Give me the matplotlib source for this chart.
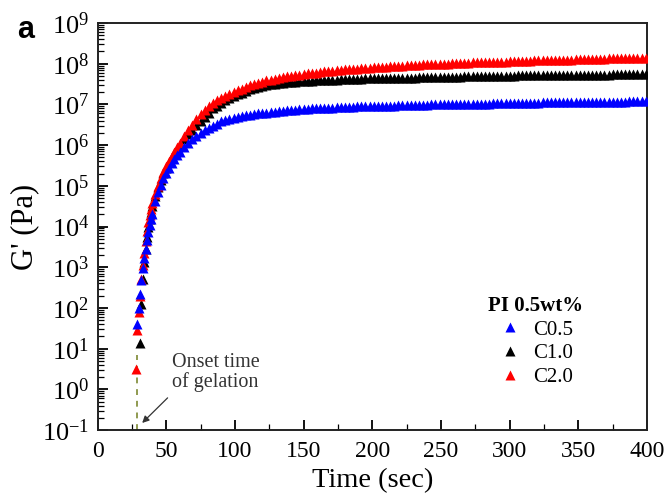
import matplotlib
matplotlib.use("Agg")
from matplotlib import pyplot as plt
from matplotlib.ticker import LogLocator, FixedLocator, NullFormatter
import numpy as np

plt.rcParams["font.family"] = ["Liberation Serif", "DejaVu Serif"]
plt.rcParams["mathtext.fontset"] = "custom"
plt.rcParams["mathtext.rm"] = "Liberation Serif"
plt.rcParams["mathtext.it"] = "Liberation Serif:italic"

# sampling times (sec)
time_s = [28, 29, 30, 31, 32, 33, 34, 35, 36, 37, 38, 39, 40,
          42, 44, 46, 48, 50, 52, 54, 56, 58, 60,
          63, 66, 69, 72, 75, 78, 81, 84, 87, 90,
          93, 96, 99, 102, 105, 108, 111, 114, 117, 120, 123, 126, 129, 132, 135, 138,
          141, 144, 147, 150, 153, 156, 159, 162, 165, 168, 171, 174, 177, 180, 183, 186,
          189, 192, 195, 198, 201, 204, 207, 210, 213, 216, 219, 222, 225, 228, 231, 234,
          237, 240, 243, 246, 249, 252, 255, 258, 261, 264, 267, 270, 273, 276, 279, 282,
          285, 288, 291, 294, 297, 300, 303, 306, 309, 312, 315, 318, 321, 324, 327, 330,
          333, 336, 339, 342, 345, 348, 351, 354, 357, 360, 363, 366, 369, 372, 375, 378,
          381, 384, 387, 390, 393, 396, 399]

# log10 G' (Pa); C0.5 starts at 29 s, C1.0 at 31 s, C2.0 at 28 s
logG_c05 = [1.60, 2.00, 2.35, 2.68, 2.97, 3.23, 3.46, 3.67, 3.86, 4.03, 4.18, 4.32,
            4.62, 4.84, 5.02, 5.18, 5.32, 5.45, 5.56, 5.66, 5.75, 5.83,
            5.95, 6.05, 6.14, 6.22, 6.29, 6.36, 6.42, 6.48, 6.53, 6.58,
            6.61, 6.64, 6.67, 6.69, 6.71, 6.73, 6.75, 6.76, 6.78, 6.79, 6.80, 6.81, 6.82, 6.83, 6.84, 6.85,
            6.86, 6.87, 6.88, 6.88, 6.89, 6.90, 6.90, 6.91, 6.91, 6.92, 6.92, 6.93, 6.93, 6.94, 6.94, 6.94,
            6.95, 6.95, 6.95, 6.96, 6.96, 6.96, 6.97, 6.97, 6.97, 6.97, 6.98, 6.98, 6.98, 6.98, 6.99, 6.99,
            6.99, 6.99, 7.00, 7.00, 7.00, 7.00, 7.00, 7.01, 7.01, 7.01, 7.01, 7.01, 7.02, 7.02, 7.02, 7.02,
            7.02, 7.03, 7.03, 7.03, 7.03, 7.03, 7.03, 7.04, 7.04, 7.04, 7.04, 7.04, 7.04, 7.05, 7.05, 7.05,
            7.05, 7.05, 7.05, 7.05, 7.06, 7.06, 7.06, 7.06, 7.06, 7.06, 7.06, 7.07, 7.07, 7.07, 7.07, 7.07,
            7.07, 7.07, 7.08, 7.08, 7.08, 7.08, 7.08]

logG_c10 = [1.14, 2.10, 2.70, 3.12, 3.46, 3.75, 3.98, 4.18, 4.35, 4.50,
            4.76, 4.97, 5.15, 5.31, 5.45, 5.58, 5.70, 5.81, 5.91, 6.00,
            6.14, 6.27, 6.38, 6.49, 6.60, 6.69, 6.78, 6.90, 6.97, 7.04,
            7.10, 7.15, 7.20, 7.25, 7.29, 7.33, 7.37, 7.40, 7.43, 7.45, 7.47, 7.49, 7.51, 7.52, 7.53, 7.54,
            7.55, 7.56, 7.57, 7.57, 7.58, 7.58, 7.59, 7.59, 7.60, 7.60, 7.61, 7.61, 7.62, 7.62, 7.62, 7.63,
            7.63, 7.63, 7.64, 7.64, 7.64, 7.64, 7.65, 7.65, 7.65, 7.65, 7.66, 7.66, 7.66, 7.66, 7.66, 7.67,
            7.67, 7.67, 7.67, 7.67, 7.68, 7.68, 7.68, 7.68, 7.68, 7.68, 7.69, 7.69, 7.69, 7.69, 7.69, 7.69,
            7.70, 7.70, 7.70, 7.70, 7.70, 7.70, 7.70, 7.71, 7.71, 7.71, 7.71, 7.71, 7.71, 7.71, 7.72, 7.72,
            7.72, 7.72, 7.72, 7.72, 7.72, 7.72, 7.73, 7.73, 7.73, 7.73, 7.73, 7.73, 7.73, 7.73, 7.74, 7.74,
            7.74, 7.74, 7.74, 7.74, 7.74, 7.74, 7.75]

logG_c20 = [0.50, 1.46, 1.90, 2.30, 2.70, 3.05, 3.35, 3.65, 3.90, 4.10, 4.28, 4.43, 4.57,
            4.80, 5.00, 5.18, 5.34, 5.48, 5.61, 5.73, 5.84, 5.95, 6.05,
            6.22, 6.37, 6.50, 6.64, 6.76, 6.86, 6.95, 7.03, 7.10, 7.16,
            7.21, 7.26, 7.30, 7.35, 7.39, 7.43, 7.47, 7.50, 7.53, 7.56, 7.59, 7.61, 7.63, 7.65, 7.67, 7.69,
            7.70, 7.72, 7.73, 7.75, 7.76, 7.77, 7.78, 7.80, 7.81, 7.82, 7.83, 7.84, 7.85, 7.86, 7.87, 7.87,
            7.88, 7.89, 7.90, 7.90, 7.91, 7.92, 7.92, 7.93, 7.94, 7.94, 7.95, 7.95, 7.96, 7.96, 7.97, 7.97,
            7.98, 7.98, 7.99, 7.99, 8.00, 8.00, 8.00, 8.01, 8.01, 8.02, 8.02, 8.02, 8.03, 8.03, 8.03, 8.04,
            8.04, 8.04, 8.05, 8.05, 8.05, 8.06, 8.06, 8.06, 8.07, 8.07, 8.07, 8.08, 8.08, 8.08, 8.09, 8.09,
            8.09, 8.10, 8.10, 8.10, 8.10, 8.11, 8.11, 8.11, 8.11, 8.12, 8.12, 8.12, 8.12, 8.13, 8.13, 8.13,
            8.13, 8.14, 8.14, 8.14, 8.14, 8.15, 8.15]

onset_time = 28.5
series_labels = ["C0.5", "C1.0", "C2.0"]

t = np.array(time_s, dtype=float)
g05 = 10 ** np.array(logG_c05)
g10 = 10 ** np.array(logG_c10)
g20 = 10 ** np.array(logG_c20)

fig = plt.figure(figsize=(6.68, 4.99), dpi=100)
ax = fig.add_axes([0.146, 0.138, 0.8226, 0.816])

ms = 7
ax.plot(t[3:3 + len(g10)], g10, "^", color="black", ms=ms, mec="none", zorder=3)
ax.plot(t[:len(g20)], g20, "^", color="#ff0000", ms=ms, mec="none", zorder=4)
ax.plot(t[1:1 + len(g05)], g05, "^", color="#0000ff", ms=ms, mec="none", zorder=5)

# onset of gelation marker
ax.plot([onset_time, onset_time], [0.1, 7], "--", color="#8f9a50", lw=1.4, dashes=(3, 3), zorder=2)
ax.annotate("", xy=(32.5, 0.15), xytext=(51, 0.62),
            arrowprops=dict(arrowstyle="-|>", color="#333333", lw=0.9, mutation_scale=10,
                            shrinkA=0, shrinkB=0))
ax.text(54, 2.6, "Onset time\nof gelation", fontsize=14.5, color="#333333",
        va="center", ha="left", linespacing=1.05)

ax.set_xlim(0, 400)
ax.set_yscale("log")
ax.set_ylim(0.1, 1e9)

ax.set_xticks([0, 50, 100, 150, 200, 250, 300, 350, 400])
ax.xaxis.set_minor_locator(FixedLocator([25, 75, 125, 175, 225, 275, 325, 375]))
ax.yaxis.set_major_locator(LogLocator(base=10, numticks=20))
ax.yaxis.set_minor_locator(LogLocator(base=10, subs=np.arange(2, 10), numticks=20))
ax.yaxis.set_minor_formatter(NullFormatter())

ax.tick_params(axis="both", which="major", direction="in", length=7, width=1.3,
               top=False, right=False)
ax.tick_params(axis="both", which="minor", direction="in", length=4, width=0.9,
               top=False, right=False)
ax.tick_params(axis="x", which="major", labelsize=17, pad=8)
ax.tick_params(axis="y", which="major", labelsize=19, pad=6)
for s in ax.spines.values():
    s.set_linewidth(1.4)
    s.set_color("#222222")

ax.set_xlabel("Time (sec)", fontsize=20.5, labelpad=4)
ax.set_ylabel("G' (Pa)", fontsize=22, labelpad=2)

# legend
h05, = ax.plot([], [], "^", color="#0000ff", ms=7, mec="none")
h10, = ax.plot([], [], "^", color="black", ms=7, mec="none")
h20, = ax.plot([], [], "^", color="#ff0000", ms=7, mec="none")
leg = ax.legend([h05, h10, h20], series_labels, title="PI 0.5wt%", loc="upper left",
                bbox_to_anchor=(0.695, 0.35), frameon=False, fontsize=15,
                handlelength=1.2, handletextpad=0.55, labelspacing=0.2, borderaxespad=0)
leg.get_title().set_fontweight("bold")
leg.get_title().set_fontsize(15)

fig.text(0.025, 0.94, "a", fontsize=22, fontweight="bold", family="Liberation Sans",
         ha="left", va="center")

fig.savefig("out.png", dpi=100)
